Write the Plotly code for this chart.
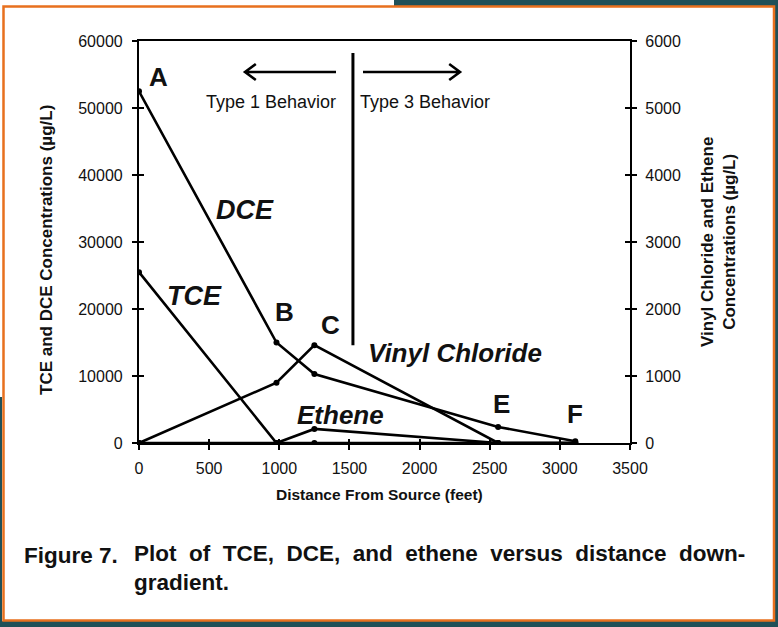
import plotly.graph_objects as go

# ---------------- data ----------------
distance = [0, 980, 1250, 2560, 3110]
dce = [52500, 15000, 10300, 2400, 250]
tce = [25500, 0, 0, 0, 0]
vinyl_chloride = [0, 900, 1460, 0, 0]
ethene = [0, 0, 210, 0, 0]

x_ticks = [0, 500, 1000, 1500, 2000, 2500, 3000, 3500]
y1_ticks = [0, 10000, 20000, 30000, 40000, 50000, 60000]
y2_ticks = [0, 1000, 2000, 3000, 4000, 5000, 6000]

W, H = 778, 627
L, R, T, B = 139, 630, 41, 443  # plot area in pixels


def px(x):
    return (x - L) / (R - L)


def py(y):
    return (B - y) / (B - T)


FONT = "Liberation Sans, Arial, Helvetica, sans-serif"
INK = "#111111"

fig = go.Figure()
line_style = dict(color="black", width=2.6)
mk = dict(color="black", size=6, symbol="circle")

fig.add_trace(go.Scatter(x=distance, y=dce, mode="lines+markers", line=line_style, marker=mk, name="DCE"))
fig.add_trace(go.Scatter(x=distance, y=tce, mode="lines+markers", line=line_style, marker=mk, name="TCE"))
fig.add_trace(go.Scatter(x=distance, y=vinyl_chloride, mode="lines+markers", line=line_style, marker=mk,
                         yaxis="y2", name="Vinyl Chloride"))
fig.add_trace(go.Scatter(x=distance, y=ethene, mode="lines+markers", line=line_style, marker=mk,
                         yaxis="y2", name="Ethene"))

tickfont = dict(family=FONT, size=16, color=INK)
axis_common = dict(showgrid=False, zeroline=False, showline=True, linecolor="black", linewidth=2.2,
                   ticks="outside", ticklen=5, tickwidth=2, tickcolor="black", tickfont=tickfont)

fig.update_layout(
    width=W, height=H,
    margin=dict(l=L, r=W - R, t=T, b=H - B),
    paper_bgcolor="white", plot_bgcolor="white",
    showlegend=False,
    xaxis=dict(range=[0, 3500], tickvals=x_ticks, ticktext=[str(v) for v in x_ticks], mirror=True,
               ticklabelstandoff=5, **axis_common),
    yaxis=dict(range=[0, 60000], tickvals=y1_ticks, ticktext=[str(v) for v in y1_ticks],
               ticklabelstandoff=6, **axis_common),
    yaxis2=dict(range=[0, 6000], tickvals=y2_ticks, ticktext=[str(v) for v in y2_ticks], overlaying="y",
                side="right", ticklabelstandoff=5, **axis_common),
    xaxis2=dict(range=[0, 3500], tickvals=x_ticks, overlaying="x", showticklabels=False, showgrid=False,
                zeroline=False, ticks="inside", ticklen=4, tickwidth=2, tickcolor="black", showline=False),
    yaxis3=dict(range=[0, 60000], tickvals=y1_ticks, overlaying="y", side="left", showticklabels=False,
                showgrid=False, zeroline=False, ticks="inside", ticklen=5, tickwidth=2, tickcolor="black",
                showline=False),
    yaxis4=dict(range=[0, 6000], tickvals=y2_ticks, overlaying="y", side="right", showticklabels=False,
                showgrid=False, zeroline=False, ticks="inside", ticklen=5, tickwidth=2, tickcolor="black",
                showline=False),
)
# invisible traces to activate inside-tick axes
fig.add_trace(go.Scatter(x=[None], y=[None], xaxis="x2", yaxis="y3", showlegend=False, hoverinfo="skip"))
fig.add_trace(go.Scatter(x=[None], y=[None], xaxis="x", yaxis="y4", showlegend=False, hoverinfo="skip"))

shapes = []
teal = "#1f5058"
# slide background pieces
shapes.append(dict(type="rect", xref="paper", yref="paper", x0=px(394), x1=px(W + 2), y0=py(-2), y1=py(6),
                   fillcolor=teal, line=dict(width=0), layer="below"))
shapes.append(dict(type="rect", xref="paper", yref="paper", x0=px(-2), x1=px(W + 2), y0=py(621), y1=py(H + 2),
                   fillcolor=teal, line=dict(width=0), layer="below"))
shapes.append(dict(type="rect", xref="paper", yref="paper", x0=px(775), x1=px(W + 2), y0=py(-2), y1=py(H + 2),
                   fillcolor=teal, line=dict(width=0), layer="below"))
shapes.append(dict(type="rect", xref="paper", yref="paper", x0=px(-2), x1=px(2), y0=py(397), y1=py(H + 2),
                   fillcolor=teal, line=dict(width=0), layer="below"))
# orange frame
shapes.append(dict(type="rect", xref="paper", yref="paper", x0=px(3.5), x1=px(774), y0=py(6.5), y1=py(620.5),
                   line=dict(color="#e8701e", width=2.5), layer="below"))
# vertical divider between behaviours
shapes.append(dict(type="line", xref="x", yref="y", x0=1525, x1=1525, y0=14600, y1=58200,
                   line=dict(color="black", width=3)))
# arrows (open chevron heads)
ay = py(72)
hx = 0.022
hy = 0.02
shapes.append(dict(type="path", xref="paper", yref="paper",
                   path=f"M {px(336)},{ay} L {px(245)},{ay} M {px(245) + hx},{ay + hy} L {px(245)},{ay} L {px(245) + hx},{ay - hy}",
                   line=dict(color="black", width=2.6)))
shapes.append(dict(type="path", xref="paper", yref="paper",
                   path=f"M {px(363)},{ay} L {px(460)},{ay} M {px(460) - hx},{ay + hy} L {px(460)},{ay} L {px(460) - hx},{ay - hy}",
                   line=dict(color="black", width=2.6)))
fig.update_layout(shapes=shapes)

ann = []


def label(text, x, y, size, bold=True, italic=False, **kw):
    t = text
    if bold:
        t = f"<b>{t}</b>"
    if italic:
        t = f"<i>{t}</i>"
    d = dict(text=t, x=px(x), y=py(y), xref="paper", yref="paper", showarrow=False,
             xanchor="center", yanchor="middle",
             font=dict(family=FONT, size=size, color=INK))
    d.update(kw)
    ann.append(d)


label("A", 158, 77, 26)
label("B", 284, 312, 26)
label("C", 330, 325, 26)
label("E", 501, 404, 26)
label("F", 575, 414, 26)
label("DCE", 245, 210, 27, italic=True)
label("TCE", 194, 296, 27, italic=True)
label("Vinyl Chloride", 455, 353, 26, italic=True)
label("Ethene", 340, 415, 26, italic=True)
label("Type 1 Behavior", 271, 102, 18, bold=False)
label("Type 3 Behavior", 425, 102, 18, bold=False)
label("Distance From Source (feet)", 379, 494, 15.5)
label("TCE and DCE Concentrations (µg/L)", 46, 250, 17, textangle=-90)
label("Vinyl Chloride and Ethene<br>Concentrations (µg/L)", 718, 242, 17, textangle=-90)
label("Figure 7.", 22, 555, 22.5, xanchor="left")
sp = "&nbsp;&nbsp;"
caption = sp.join(["Plot", "of", "TCE,", "DCE,", "and", "ethene", "versus", "distance", "down-"])
label(caption + "<br>gradient.", 132, 568, 22.5, xanchor="left", align="left")
fig.update_layout(annotations=ann)

fig.write_html("out.html", config={"displayModeBar": False},
               post_script="document.body.style.margin='0';document.body.style.overflow='hidden';")
